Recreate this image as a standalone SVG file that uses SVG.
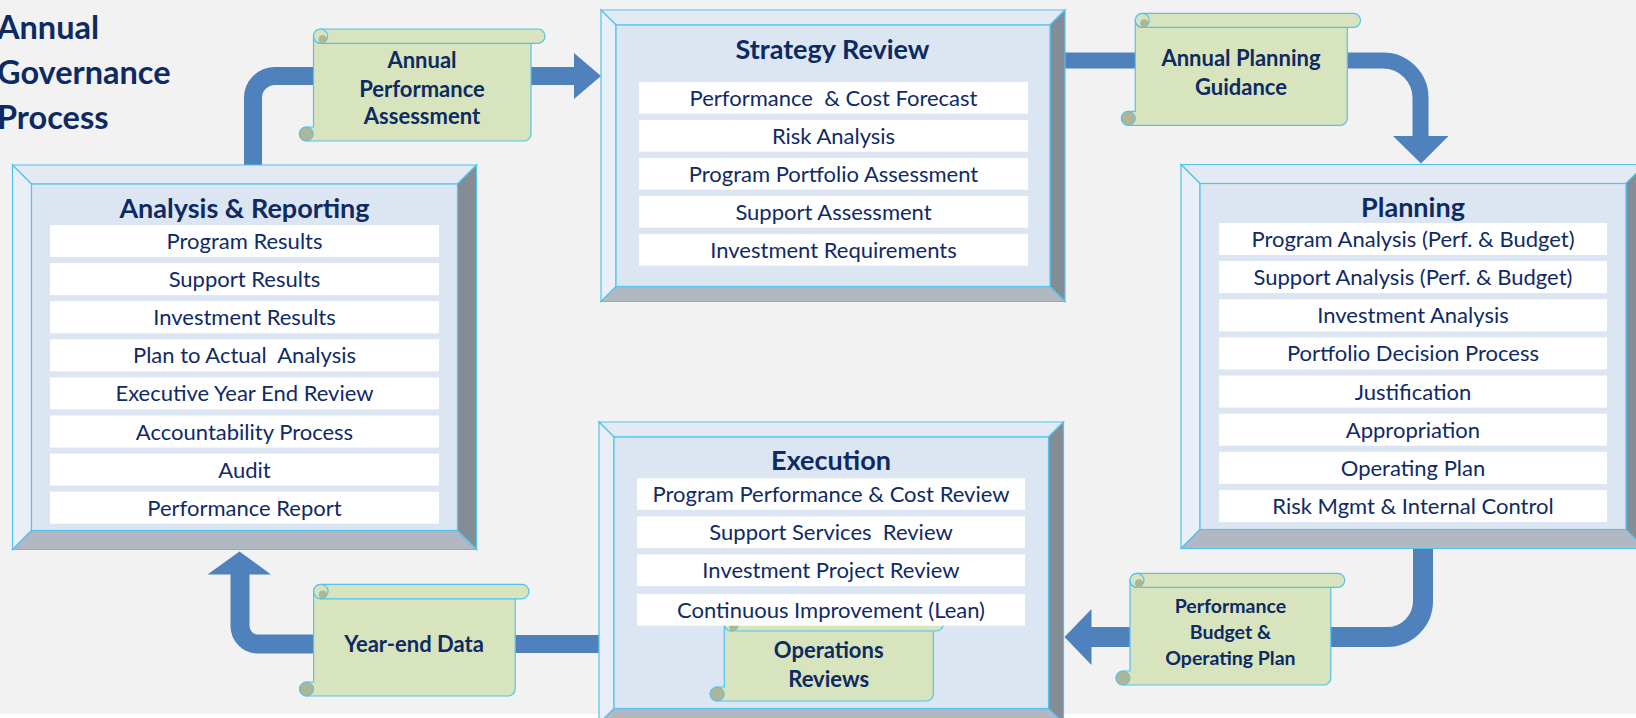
<svg xmlns="http://www.w3.org/2000/svg" width="1636" height="718" viewBox="0 0 1636 718">
<style>
.bg{fill:#f2f2f2}
.bt{fill:#e3eaf4;stroke:#53c2ef;stroke-width:1.2}
.bl{fill:#e9eff7;stroke:#53c2ef;stroke-width:1.2}
.br{fill:#848c95;stroke:#53c2ef;stroke-width:1.2}
.bb{fill:#b1b8c2;stroke:#53c2ef;stroke-width:1.2}
.bf{fill:#dce6f2;stroke:#53c2ef;stroke-width:1.2}
.row{fill:#ffffff}
.rt{font-family:Lato,"Liberation Sans",sans-serif;font-size:22px;fill:#102a66;text-anchor:middle}
.hd{font-family:Lato,"Liberation Sans",sans-serif;font-size:27px;font-weight:bold;fill:#0e2a62;text-anchor:middle}
.st{font-family:Lato,"Liberation Sans",sans-serif;font-size:22px;font-weight:bold;fill:#0e2a62;text-anchor:middle}
.st2{font-family:Lato,"Liberation Sans",sans-serif;font-size:19.5px;font-weight:bold;fill:#0e2a62;text-anchor:middle}
.ttl{font-family:Lato,"Liberation Sans",sans-serif;font-size:32.5px;font-weight:bold;fill:#0e2a62}
.sc{fill:#d7e4bd;stroke:#53c2ef;stroke-width:1.2}
.cu{fill:#adb697;stroke:#53c2ef;stroke-width:1}
.cd{fill:#adb697}
.ar{fill:none;stroke:#4f81bd}
.ah{fill:#4f81bd}
</style>
<rect x="0" y="0" width="1636" height="718" fill="#ffffff"/>
<rect class="bg" x="0" y="0" width="1636" height="714"/>

<g id="title">
<text class="ttl" x="-3" y="38.5">Annual</text>
<text class="ttl" x="-3" y="83.5">Governance</text>
<text class="ttl" x="-3" y="128.5">Process</text>
</g>

<g id="connectors">
<path class="ar" stroke-width="18" d="M253,166 V98 A22,22 0 0 1 275,76 H316"/>
<path class="ar" stroke-width="18" d="M528,76 H576"/>
<polygon class="ah" points="574,53 601,76 574,99"/>
<path class="ar" stroke-width="16" d="M1064,60.5 H1137"/>
<path class="ar" stroke-width="16" d="M1345,60.5 H1383 A37.5,37.5 0 0 1 1420.5,98 V137"/>
<polygon class="ah" points="1393,136 1448.5,136 1421,163.5"/>
<path class="ar" stroke-width="20" d="M1423,548 V601 A36,36 0 0 1 1387,637 H1328"/>
<path class="ar" stroke-width="20" d="M1133,637 H1090"/>
<polygon class="ah" points="1091.5,609 1064.5,637 1091.5,665"/>
<path class="ar" stroke-width="18" d="M600,644 H512"/>
<path class="ar" stroke-width="19" d="M316,644 H258 A18,18 0 0 1 240,626 V573"/>
<polygon class="ah" points="207.5,574.5 271,574.5 239.5,551.5"/>
</g>

<g id="analysis-reporting">
<polygon class="bt" points="12.5,165 476.5,165 457.5,184 31.5,184"/>
<polygon class="bl" points="12.5,165 31.5,184 31.5,530.5 12.5,549.5"/>
<polygon class="br" points="476.5,165 476.5,549.5 457.5,530.5 457.5,184"/>
<polygon class="bb" points="12.5,549.5 476.5,549.5 457.5,530.5 31.5,530.5"/>
<rect class="bf" x="31.5" y="184" width="426" height="346.5"/>
<text class="hd" x="244.5" y="218">Analysis &amp; Reporting</text>
<rect class="row" x="50" y="225" width="389" height="32"/>
<rect class="row" x="50" y="263.1" width="389" height="32"/>
<rect class="row" x="50" y="301.2" width="389" height="32"/>
<rect class="row" x="50" y="339.3" width="389" height="32"/>
<rect class="row" x="50" y="377.4" width="389" height="32"/>
<rect class="row" x="50" y="415.5" width="389" height="32"/>
<rect class="row" x="50" y="453.6" width="389" height="32"/>
<rect class="row" x="50" y="491.7" width="389" height="32"/>
<text class="rt" x="244.5" y="249">Program Results</text>
<text class="rt" x="244.5" y="287.1">Support Results</text>
<text class="rt" x="244.5" y="325.2">Investment Results</text>
<text class="rt" x="244.5" y="363.3" xml:space="preserve">Plan to Actual  Analysis</text>
<text class="rt" x="244.5" y="401.4">Executive Year End Review</text>
<text class="rt" x="244.5" y="439.5">Accountability Process</text>
<text class="rt" x="244.5" y="477.6">Audit</text>
<text class="rt" x="244.5" y="515.7">Performance Report</text>
</g>

<g id="strategy-review">
<polygon class="bt" points="601,10 1065,10 1050,25 616,25"/>
<polygon class="bl" points="601,10 616,25 616,286.5 601,301.5"/>
<polygon class="br" points="1065,10 1065,301.5 1050,286.5 1050,25"/>
<polygon class="bb" points="601,301.5 1065,301.5 1050,286.5 616,286.5"/>
<rect class="bf" x="616" y="25" width="434" height="261.5"/>
<text class="hd" x="832.5" y="59">Strategy Review</text>
<rect class="row" x="639" y="82" width="389" height="31.7"/>
<rect class="row" x="639" y="120" width="389" height="31.7"/>
<rect class="row" x="639" y="158" width="389" height="31.7"/>
<rect class="row" x="639" y="196" width="389" height="31.7"/>
<rect class="row" x="639" y="234" width="389" height="31.7"/>
<text class="rt" x="833.5" y="106" xml:space="preserve">Performance  &amp; Cost Forecast</text>
<text class="rt" x="833.5" y="144">Risk Analysis</text>
<text class="rt" x="833.5" y="182">Program Portfolio Assessment</text>
<text class="rt" x="833.5" y="220">Support Assessment</text>
<text class="rt" x="833.5" y="258">Investment Requirements</text>
</g>

<g id="planning">
<polygon class="bt" points="1181,164.5 1645,164.5 1626,183.5 1200,183.5"/>
<polygon class="bl" points="1181,164.5 1200,183.5 1200,529.5 1181,548.5"/>
<polygon class="br" points="1645,164.5 1645,548.5 1626,529.5 1626,183.5"/>
<polygon class="bb" points="1181,548.5 1645,548.5 1626,529.5 1200,529.5"/>
<rect class="bf" x="1200" y="183.5" width="426" height="346"/>
<text class="hd" x="1413" y="216.7">Planning</text>
<rect class="row" x="1219" y="223" width="388" height="32"/>
<rect class="row" x="1219" y="261.1" width="388" height="32"/>
<rect class="row" x="1219" y="299.3" width="388" height="32"/>
<rect class="row" x="1219" y="337.4" width="388" height="32"/>
<rect class="row" x="1219" y="375.6" width="388" height="32"/>
<rect class="row" x="1219" y="413.7" width="388" height="32"/>
<rect class="row" x="1219" y="451.8" width="388" height="32"/>
<rect class="row" x="1219" y="490" width="388" height="32"/>
<text class="rt" x="1413" y="247">Program Analysis (Perf. &amp; Budget)</text>
<text class="rt" x="1413" y="285.1">Support Analysis (Perf. &amp; Budget)</text>
<text class="rt" x="1413" y="323.3">Investment Analysis</text>
<text class="rt" x="1413" y="361.4">Portfolio Decision Process</text>
<text class="rt" x="1413" y="399.6">Justification</text>
<text class="rt" x="1413" y="437.7">Appropriation</text>
<text class="rt" x="1413" y="475.8">Operating Plan</text>
<text class="rt" x="1413" y="514">Risk Mgmt &amp; Internal Control</text>
</g>

<g id="execution">
<polygon class="bt" points="599,422 1063.5,422 1048.5,437 614,437"/>
<polygon class="bl" points="599,422 614,437 614,708.5 599,723.5"/>
<polygon class="br" points="1063.5,422 1063.5,723.5 1048.5,708.5 1048.5,437"/>
<polygon class="bb" points="599,723.5 1063.5,723.5 1048.5,708.5 614,708.5"/>
<rect class="bf" x="614" y="437" width="434.5" height="271.5"/>
<text class="hd" x="831" y="470">Execution</text>
</g>

<g id="operations-reviews">
<path class="sc" d="M724.3,624 V687 H717.2 A7,7 0 0 0 717.2,701 H926.3 A7,7 0 0 0 933.3,694 V624 Z"/>
<circle class="cu" cx="717.2" cy="694" r="7"/>
<rect class="sc" x="724.3" y="617" width="219" height="14" rx="7"/>
<circle class="sc" cx="731.3" cy="624" r="7"/>
<circle class="cd" cx="733.3" cy="627" r="4"/>
<text class="st" x="828.7" y="658">Operations</text>
<text class="st" x="828.7" y="686.7">Reviews</text>
</g>

<g id="execution-rows">
<rect class="row" x="637" y="478.3" width="388" height="31.5"/>
<rect class="row" x="637" y="516.5" width="388" height="31.5"/>
<rect class="row" x="637" y="554.5" width="388" height="31.5"/>
<rect class="row" x="637" y="594" width="388" height="31.7"/>
<text class="rt" x="831" y="501.8">Program Performance &amp; Cost Review</text>
<text class="rt" x="831" y="540" xml:space="preserve">Support Services  Review</text>
<text class="rt" x="831" y="578">Investment Project Review</text>
<text class="rt" x="831" y="617.5">Continuous Improvement (Lean)</text>
</g>

<g id="annual-performance-assessment">
<path class="sc" d="M313.5,36 V127 H306.3 A7,7 0 0 0 306.3,141 H524 A7,7 0 0 0 531,134 V36 Z"/>
<circle class="cu" cx="306.3" cy="134" r="7"/>
<rect class="sc" x="313.5" y="29" width="231.5" height="14.3" rx="7.1"/>
<circle class="sc" cx="320.6" cy="36.1" r="7.1"/>
<circle class="cd" cx="322.6" cy="39.2" r="4"/>
<text class="st" x="422" y="68.3">Annual</text>
<text class="st" x="422" y="96.6">Performance</text>
<text class="st" x="422" y="124.3">Assessment</text>
</g>

<g id="annual-planning-guidance">
<path class="sc" d="M1135.3,20.3 V111.3 H1128.3 A7,7 0 0 0 1128.3,125.3 H1340.3 A7,7 0 0 0 1347.3,118.3 V20.3 Z"/>
<circle class="cu" cx="1128.3" cy="118.3" r="7"/>
<rect class="sc" x="1135.3" y="13.3" width="225.2" height="14" rx="7"/>
<circle class="sc" cx="1142.3" cy="20.3" r="7"/>
<circle class="cd" cx="1144.3" cy="23.3" r="4"/>
<text class="st" x="1241" y="65.7">Annual Planning</text>
<text class="st" x="1241" y="95">Guidance</text>
</g>

<g id="performance-budget-operating-plan">
<path class="sc" d="M1130,580.3 V671 H1123 A7,7 0 0 0 1123,685 H1323.8 A7,7 0 0 0 1330.8,678 V580.3 Z"/>
<circle class="cu" cx="1123" cy="678" r="7"/>
<rect class="sc" x="1130" y="573.3" width="214.8" height="14" rx="7"/>
<circle class="sc" cx="1137" cy="580.3" r="7"/>
<circle class="cd" cx="1139" cy="583.3" r="4"/>
<text class="st2" x="1230.4" y="613.3">Performance</text>
<text class="st2" x="1230.4" y="639.3">Budget &amp;</text>
<text class="st2" x="1230.4" y="665">Operating Plan</text>
</g>

<g id="year-end-data">
<path class="sc" d="M313.6,591.3 V682 H306.6 A7,7 0 0 0 306.6,696 H508.2 A7,7 0 0 0 515.2,689 V591.3 Z"/>
<circle class="cu" cx="306.6" cy="689" r="7"/>
<rect class="sc" x="313.6" y="584.3" width="215.4" height="14.5" rx="7.2"/>
<circle class="sc" cx="320.8" cy="591.5" r="7.2"/>
<circle class="cd" cx="322.8" cy="594.5" r="4"/>
<text class="st" x="414" y="651.7">Year-end Data</text>
</g>
</svg>
